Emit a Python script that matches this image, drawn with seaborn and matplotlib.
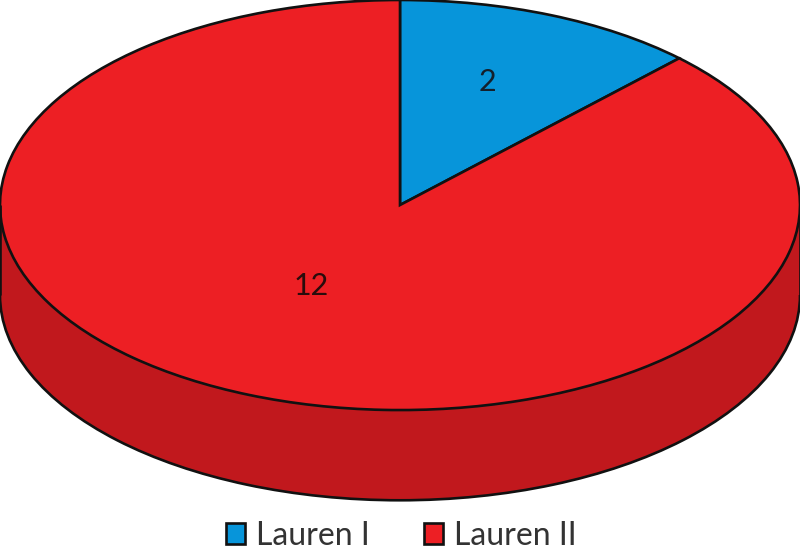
import matplotlib
matplotlib.use("Agg")
import matplotlib.pyplot as plt
from matplotlib.patches import Patch
import numpy as np
import seaborn as sns

categories = ["Lauren I", "Lauren II"]
counts = [2, 12]
# slice sizes as drawn in the picture (the blue one is a bit under 2/14)
drawn_shares = [12.3, 87.7]
colors = ["#0795DA", "#ED1F24"]
side_color = "#C1181D"

sns.set_theme(style="white")
plt.rcParams["font.family"] = ["Lato", "DejaVu Sans"]

fig = plt.figure(figsize=(8, 5.54), dpi=100)
ax = fig.add_axes([0, 0, 1, 1])

depth = 0.44
edge = {"edgecolor": "#111111", "linewidth": 1.9}

# bottom disc + side wall, then the top disc over it
ax.pie([1], colors=[side_color], center=(0, -depth), startangle=90, wedgeprops=edge)
xs = np.linspace(-1, 1, 200)
ax.fill_between(xs, -depth, 0, color=side_color, linewidth=0)
ax.vlines([-1, 1], -depth, 0, color="#111111", linewidth=1.9)
wedges, _ = ax.pie(drawn_shares, colors=colors, startangle=90, counterclock=False, wedgeprops=edge)

ax.set_aspect("auto")
ax.set_xlim(-1, 1)
ax.set_ylim(-1.702, 1)
ax.axis("off")

ax.text(0.2175, 0.6, str(counts[0]), ha="center", va="center", fontsize=22, color="#14202c")
ax.text(-0.2225, -0.395, str(counts[1]), ha="center", va="center", fontsize=22, color="#2a0c0c")

handles = [Patch(facecolor=c, edgecolor="#111111", linewidth=1.9) for c in colors]
fig.legend(handles, categories, loc="lower center", bbox_to_anchor=(0.5015, -0.046), ncol=2, frameon=False,
           fontsize=23, handlelength=0.6, handleheight=0.6, handletextpad=0.32, columnspacing=1.72,
           labelcolor="#333333")

fig.savefig("out.png", dpi=100)
